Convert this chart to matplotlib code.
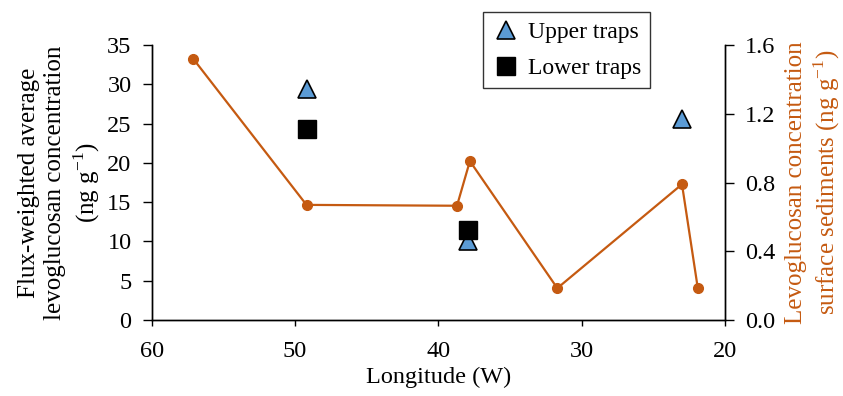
import matplotlib.pyplot as plt

plt.rcParams['font.family'] = ['Liberation Serif', 'DejaVu Serif']
plt.rcParams['mathtext.fontset'] = 'custom'
plt.rcParams['mathtext.rm'] = 'Liberation Serif'

# Sediment levoglucosan (right axis)
sed_lon = [57.1, 49.2, 38.7, 37.8, 31.7, 23.0, 21.9]
sed_conc = [1.52, 0.67, 0.665, 0.925, 0.185, 0.79, 0.187]

# Trap flux-weighted averages (left axis)
upper_lon = [49.2, 37.9, 23.0]
upper_conc = [29.4, 10.0, 25.6]
lower_lon = [49.2, 37.9]
lower_conc = [24.3, 11.5]

orange = '#C55A11'
blue = '#5B9BD5'
fs_tick = 17.5
fs_lab = 18

fig = plt.figure(figsize=(8.43, 3.96), dpi=100)
ax = fig.add_axes([0.180, 0.192, 0.680, 0.694])
ax2 = ax.twinx()

ax.plot(upper_lon, upper_conc, linestyle='none', marker='^', markersize=13,
        markerfacecolor=blue, markeredgecolor='black', markeredgewidth=1.2,
        label='Upper traps', zorder=3)
ax.plot(lower_lon, lower_conc, linestyle='none', marker='s', markersize=13,
        markerfacecolor='black', markeredgecolor='black',
        label='Lower traps', zorder=4)

ax2.plot(sed_lon, sed_conc, color=orange, linewidth=1.6, marker='o',
         markersize=7, markerfacecolor=orange, markeredgecolor=orange)

ax.set_xlim(60, 20)
ax.set_ylim(0, 35)
ax2.set_ylim(0, 1.6)
ax.set_xticks([60, 50, 40, 30, 20])
ax.set_yticks(range(0, 36, 5))
ax2.set_yticks([0.0, 0.4, 0.8, 1.2, 1.6])
ax2.set_yticklabels(['0.0', '0.4', '0.8', '1.2', '1.6'])

for a in (ax, ax2):
    a.spines['top'].set_visible(False)
    for s in a.spines.values():
        s.set_linewidth(1.0)
    a.tick_params(direction='out', length=6.5, width=1.0, labelsize=fs_tick, pad=8)
ax.tick_params(axis='x', length=4.5, pad=11)

ax.set_xlabel('Longitude (W)', fontsize=fs_tick, labelpad=3)
ax.set_ylabel('Flux-weighted average\nlevoglucosan concentration\n(ng g$^{\\mathrm{-1}}$)',
              fontsize=fs_lab, linespacing=1.22, labelpad=4)
ax2.set_ylabel('Levoglucosan concentration\nsurface sediments (ng g$^{\\mathrm{-1}}$)',
               fontsize=fs_lab, color=orange, linespacing=1.18, labelpad=7)

leg = ax.legend(loc='upper left', bbox_to_anchor=(0.5726, 0.970),
                bbox_transform=fig.transFigure, frameon=True, fancybox=False,
                fontsize=17, handletextpad=0.3, borderpad=0.4,
                handlelength=1.2, labelspacing=0.62, borderaxespad=0)
leg.get_frame().set_edgecolor('black')
leg.get_frame().set_linewidth(1.0)
leg.set_zorder(10)

fig.savefig('out.png', dpi=100)
